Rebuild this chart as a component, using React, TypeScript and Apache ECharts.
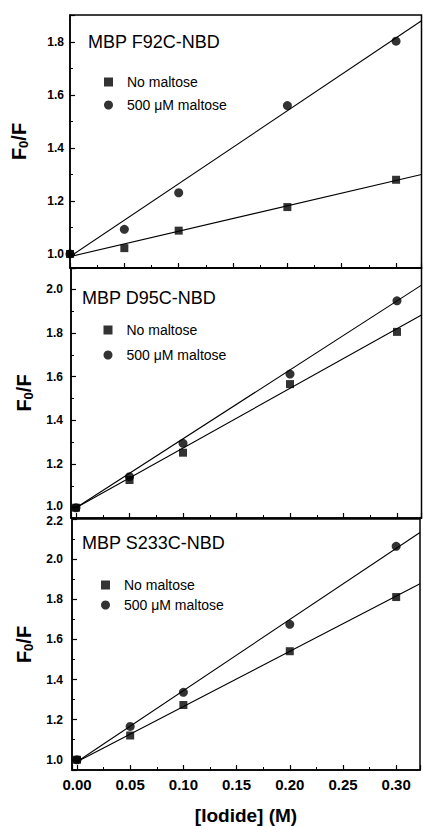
import React, { useEffect, useRef } from "react";
import * as echarts from "echarts";

// ---- data ----
const iodide = [0, 0.05, 0.1, 0.2, 0.3];
const seriesNames = ["No maltose", "500 \u03bcM maltose"];
const panelTitles = ["MBP F92C-NBD", "MBP D95C-NBD", "MBP S233C-NBD"];

const f92NoMaltose = [1.0, 1.022, 1.088, 1.177, 1.28];
const f92Maltose = [1.0, 1.093, 1.231, 1.56, 1.803];
const d95NoMaltose = [1.0, 1.127, 1.252, 1.566, 1.805];
const d95Maltose = [1.0, 1.142, 1.295, 1.612, 1.947];
const s233NoMaltose = [1.0, 1.121, 1.273, 1.541, 1.811];
const s233Maltose = [1.0, 1.166, 1.336, 1.675, 2.064];

// linear fit lines: [x, y] endpoints
const f92FitNo = [[0, 0.99], [0.3234, 1.3]];
const f92FitMalt = [[0, 0.99], [0.3234, 1.88]];
const d95FitNo = [[0, 1.0], [0.3229, 1.882]];
const d95FitMalt = [[0, 1.0], [0.3229, 2.019]];
const s233FitNo = [[0, 0.99], [0.3224, 1.877]];
const s233FitMalt = [[0, 0.99], [0.3224, 2.133]];

const xRanges = [[0, 0.3234], [-0.0047, 0.3229], [-0.0047, 0.3224]];
const yRanges = [[0.947, 1.902], [0.953, 2.0975], [0.949, 2.2]];
const xTickLabels = ["0.00", "0.05", "0.10", "0.15", "0.20", "0.25", "0.30"];

const FONT = '"Liberation Sans", Arial, Helvetica, sans-serif';

const layout = [
  { left: 69, top: 15, height: 253, yGap: 40, yMargin: 6, titleLeft: 88, titleTop: 33, legLeft: 104, legTop: 74, legGap: 7 },
  { left: 71, top: 268, height: 250, yGap: 29, yMargin: 8, titleLeft: 82, titleTop: 289, legLeft: 103.5, legTop: 322, legGap: 9 },
  { left: 72, top: 519, height: 253, yGap: 31, yMargin: 9, titleLeft: 82, titleTop: 534, legLeft: 101, legTop: 577, legGap: 4 },
];

const panelData = [
  { no: f92NoMaltose, malt: f92Maltose, fitNo: f92FitNo, fitMalt: f92FitMalt },
  { no: d95NoMaltose, malt: d95Maltose, fitNo: d95FitNo, fitMalt: d95FitMalt },
  { no: s233NoMaltose, malt: s233Maltose, fitNo: s233FitNo, fitMalt: s233FitMalt },
];

const isMult = (v: number, step: number) => Math.abs(v / step - Math.round(v / step)) < 1e-6;

export default function App() {
  const ref = useRef<HTMLDivElement>(null);
  useEffect(() => {
    if (!ref.current) return;
    const chart = echarts.init(ref.current, null, { renderer: "svg" });
    const rightEdge = 421.5;

    const grid = layout.map((l) => ({
      left: l.left,
      top: l.top,
      width: rightEdge - l.left,
      height: l.height,
      show: true,
      borderColor: "#000",
      borderWidth: 1.5,
      backgroundColor: "transparent",
    }));

    const xAxis = layout.map((l, i) => ({
      type: "value",
      gridIndex: i,
      min: xRanges[i][0],
      max: xRanges[i][1],
      splitNumber: 7,
      splitLine: { show: false },
      axisLine: { show: true, onZero: false, lineStyle: { color: "#000", width: 1.5 } },
      axisTick: { show: true, inside: true, length: 5, lineStyle: { color: "#000", width: 1.2 } },
      minorTick: { show: true, splitNumber: 2, length: 3, lineStyle: { color: "#000", width: 1 } },
      axisLabel: {
        show: i === 2,
        margin: 7,
        color: "#000",
        fontFamily: FONT,
        fontWeight: "bold",
        fontSize: 15,
        showMinLabel: true,
        showMaxLabel: true,
        formatter: (v: number) => {
          if (!isMult(v, 0.05) || v < -1e-9) return "";
          const idx = Math.round(v / 0.05);
          return xTickLabels[idx] ?? "";
        },
      },
      name: i === 2 ? "[Iodide] (M)" : "",
      nameLocation: "middle",
      nameGap: 36,
      nameTextStyle: { color: "#000", fontFamily: FONT, fontWeight: "bold", fontSize: 19 },
    }));

    const labelRich = {
      lo: { fontFamily: FONT, fontWeight: "bold", fontSize: 12, color: "#000", padding: [0, 0, 4, 0] },
      hi: { fontFamily: FONT, fontWeight: "bold", fontSize: 12, color: "#000", padding: [4, 0, 0, 0] },
    };

    const yAxis = layout.map((l, i) => ({
      type: "value",
      gridIndex: i,
      min: yRanges[i][0],
      max: yRanges[i][1],
      splitNumber: 6,
      splitLine: { show: false },
      axisLine: { show: true, onZero: false, lineStyle: { color: "#000", width: 1.5 } },
      axisTick: { show: true, inside: true, length: 5, lineStyle: { color: "#000", width: 1.2 } },
      minorTick: { show: true, splitNumber: 2, length: 3, lineStyle: { color: "#000", width: 1 } },
      axisLabel: {
        margin: l.yMargin,
        color: "#000",
        fontFamily: FONT,
        fontWeight: "bold",
        fontSize: 12,
        lineHeight: 11,
        showMinLabel: true,
        showMaxLabel: true,
        rich: labelRich,
        formatter: (v: number) => {
          if (!isMult(v, 0.2)) return "";
          const s = v.toFixed(1);
          if (i === 1 && s === "1.0") return "{lo|" + s + "}";
          if (i === 2 && s === "2.2") return "{hi|" + s + "}";
          return s;
        },
      },
      name: "{a|F}{b|0}{a|/F}",
      nameLocation: "middle",
      nameGap: l.yGap,
      nameRotate: 90,
      nameTextStyle: {
        rich: {
          a: { fontFamily: FONT, fontWeight: "bold", fontSize: 20, color: "#000", lineHeight: 22 },
          b: { fontFamily: FONT, fontWeight: "bold", fontSize: 13, color: "#000", lineHeight: 22, padding: [9, 0, 0, 0] },
        },
      },
    }));

    const series: any[] = [];
    panelData.forEach((p, i) => {
      series.push({
        type: "line",
        xAxisIndex: i,
        yAxisIndex: i,
        data: p.fitNo,
        showSymbol: false,
        symbol: "none",
        silent: true,
        lineStyle: { color: "#000", width: 1.1 },
        z: 2,
      });
      series.push({
        type: "line",
        xAxisIndex: i,
        yAxisIndex: i,
        data: p.fitMalt,
        showSymbol: false,
        symbol: "none",
        silent: true,
        lineStyle: { color: "#000", width: 1.1 },
        z: 2,
      });
      series.push({
        name: seriesNames[0],
        type: "scatter",
        xAxisIndex: i,
        yAxisIndex: i,
        symbol: "rect",
        symbolSize: 8,
        itemStyle: { color: "#000" },
        data: iodide.map((x, k) => [x, p.no[k]]),
        z: 3,
      });
      series.push({
        name: seriesNames[1],
        type: "scatter",
        xAxisIndex: i,
        yAxisIndex: i,
        symbol: "circle",
        symbolSize: 9,
        itemStyle: { color: "#000" },
        data: iodide.map((x, k) => [x, p.malt[k]]),
        z: 3,
      });
    });

    const legend = layout.map((l) => ({
      left: l.legLeft,
      top: l.legTop,
      orient: "vertical",
      itemWidth: 9,
      itemHeight: 9,
      itemGap: l.legGap,
      padding: 0,
      selectedMode: false,
      data: [
        { name: seriesNames[0], icon: "rect" },
        { name: seriesNames[1], icon: "circle" },
      ],
      textStyle: { fontFamily: FONT, fontSize: 14, color: "#000", lineHeight: 16, padding: [0, 0, 0, 9] },
    }));

    const title = layout.map((l, i) => ({
      text: panelTitles[i],
      left: l.titleLeft,
      top: l.titleTop,
      padding: 0,
      textStyle: { fontFamily: FONT, fontWeight: "normal", fontSize: 18, color: "#000", lineHeight: 18 },
    }));

    chart.setOption({
      animation: false,
      backgroundColor: "#fff",
      title,
      legend,
      grid,
      xAxis,
      yAxis,
      series,
    });
    return () => chart.dispose();
  }, []);
  return <div ref={ref} style={{ position: "absolute", left: 0, top: 0, width: 423, height: 826 }} />;
}
